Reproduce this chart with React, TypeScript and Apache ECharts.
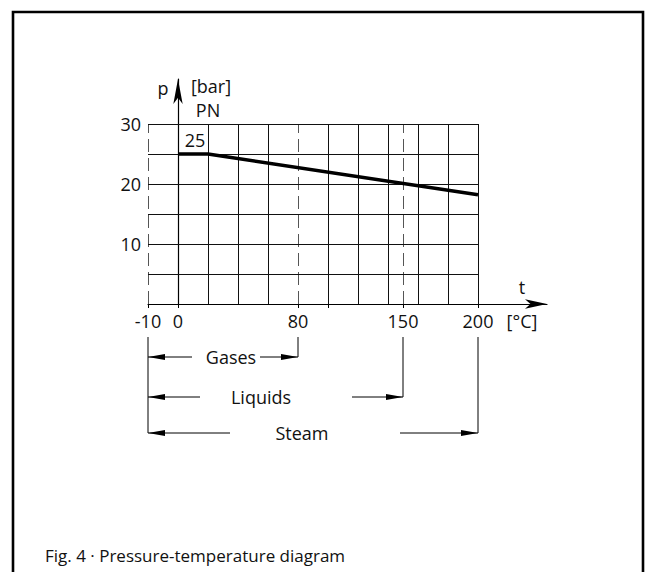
import React, { useEffect, useRef } from "react";
import * as echarts from "echarts";

// Pressure-temperature curve (PN 25)
const temps = [0, 20, 200];
const pressures = [25, 25, 18.2];

// axis ticks / labels (the -20 slot of the scale is the broken "-10" position)
const xLabelValues = [-20, 0, 80, 150, 200];
const xTickValues = [-20, 0, 80, 100, 150, 200];
const yLabelValues = [10, 20, 30];

// grid lines
const solidVerticals = [20, 40, 60, 100, 120, 140, 160, 180, 200];
const dashedVerticals = [-20, 80, 150];
const horizontals = [5, 10, 15, 20, 25, 30];

// application ranges
const rangeNames = ["Gases", "Liquids", "Steam"];
const rangeEnds = [80, 150, 200];

const FONT = "Open Sans";

export default function App() {
  const ref = useRef<HTMLDivElement>(null);
  useEffect(() => {
    document.body.style.margin = "0";
    const chart = echarts.init(ref.current!, null, { renderer: "svg" });
    const solidStyle = { color: "#111", width: 1, type: "solid" };
    const dashStyle = { color: "#555", width: 1, type: [13, 6] };
    const markData: any[] = [];
    solidVerticals.forEach((v) =>
      markData.push([{ coord: [v, 0], lineStyle: solidStyle }, { coord: [v, 30] }])
    );
    dashedVerticals.forEach((v) =>
      markData.push([{ coord: [v, 0], lineStyle: dashStyle }, { coord: [v, 30] }])
    );
    horizontals.forEach((h) =>
      markData.push([{ coord: [-20, h], lineStyle: solidStyle }, { coord: [200, h] }])
    );

    const option: any = {
      animation: false,
      grid: { left: 148, right: 103, top: 79, bottom: 268, containLabel: false },
      xAxis: {
        type: "value",
        min: -20,
        max: 246,
        interval: 20,
        axisLine: {
          show: true,
          onZero: true,
          symbol: ["none", "arrow"],
          symbolSize: [7, 22],
          lineStyle: { color: "#000", width: 1.2 },
        },
        axisTick: { show: true, customValues: xTickValues, length: 4, lineStyle: { color: "#000" } },
        axisLabel: {
          customValues: xLabelValues,
          formatter: (v: number) => (v === -20 ? "-10" : String(v)),
          margin: 8,
          fontSize: 18,
          fontFamily: FONT,
          color: "#111",
        },
        splitLine: { show: false },
      },
      yAxis: {
        type: "value",
        min: 0,
        max: 37.5,
        interval: 5,
        axisLine: {
          show: true,
          onZero: true,
          symbol: ["none", "arrow"],
          symbolSize: [7, 25],
          lineStyle: { color: "#000", width: 1.2 },
        },
        axisTick: { show: false },
        axisLabel: {
          customValues: yLabelValues,
          margin: 7,
          fontSize: 18,
          fontFamily: FONT,
          color: "#111",
        },
        splitLine: { show: false },
      },
      series: [
        {
          type: "line",
          data: [],
          z: 1,
          silent: true,
          markLine: {
            silent: true,
            symbol: "none",
            animation: false,
            label: { show: false },
            emphasis: { disabled: true },
            data: markData,
          },
        },
        {
          type: "line",
          z: 5,
          silent: true,
          symbol: "none",
          lineStyle: { color: "#000", width: 3.5 },
          data: temps.map((t, i) => [t, pressures[i]]),
        },
      ],
    };
    chart.setOption(option);

    const px = (v: number) => chart.convertToPixel({ xAxisIndex: 0 }, v) as number;
    const textStyle = (extra: any) => ({
      fontFamily: FONT,
      fontSize: 18,
      fill: "#111",
      ...extra,
    });

    const rowY = [357, 397, 433];
    const leftEnds = [192, 200, 230];
    const textCenters = [231, 261, 302];
    const rightStarts = [260, 352, 400];
    const topY = 337;
    const xLeft = px(-20);
    const graphics: any[] = [
      {
        type: "polyline",
        shape: { points: [[13, 600], [13, 12], [643, 12], [643, 600]] },
        style: { stroke: "#000", lineWidth: 2.6, fill: null },
        silent: true,
      },
      { type: "text", x: 522, y: 287, style: textStyle({ text: "t", align: "center", verticalAlign: "middle" }) },
      { type: "text", x: 522, y: 321, style: textStyle({ text: "[°C]", align: "center", verticalAlign: "middle" }) },
      { type: "text", x: 163, y: 88, style: textStyle({ text: "p", align: "center", verticalAlign: "middle" }) },
      { type: "text", x: 211, y: 86, style: textStyle({ text: "[bar]", align: "center", verticalAlign: "middle" }) },
      { type: "text", x: 208, y: 110, style: textStyle({ text: "PN", align: "center", verticalAlign: "middle" }) },
      { type: "text", x: 195, y: 140, style: textStyle({ text: "25", align: "center", verticalAlign: "middle" }) },
      {
        type: "text",
        x: 45,
        y: 555,
        style: textStyle({ text: "Fig. 4 · Pressure-temperature diagram", align: "left", verticalAlign: "middle", fontSize: 17 }),
      },
      {
        type: "line",
        shape: { x1: xLeft, y1: topY, x2: xLeft, y2: rowY[2] },
        style: { stroke: "#000", lineWidth: 1 },
      },
    ];
    const ah = 17;
    const hh = 3;
    rangeNames.forEach((name, i) => {
      const y = rowY[i];
      const xr = px(rangeEnds[i]);
      graphics.push(
        { type: "line", shape: { x1: xr, y1: topY, x2: xr, y2: y }, style: { stroke: "#000", lineWidth: 1 } },
        { type: "line", shape: { x1: xLeft, y1: y, x2: leftEnds[i], y2: y }, style: { stroke: "#000", lineWidth: 1 } },
        { type: "line", shape: { x1: rightStarts[i], y1: y, x2: xr, y2: y }, style: { stroke: "#000", lineWidth: 1 } },
        {
          type: "polygon",
          shape: { points: [[xLeft, y], [xLeft + ah, y - hh], [xLeft + ah, y + hh]] },
          style: { fill: "#000" },
        },
        {
          type: "polygon",
          shape: { points: [[xr, y], [xr - ah, y - hh], [xr - ah, y + hh]] },
          style: { fill: "#000" },
        },
        { type: "text", x: textCenters[i], y: y, style: textStyle({ text: name, align: "center", verticalAlign: "middle" }) }
      );
    });
    chart.setOption({ graphic: { elements: graphics } });

    return () => chart.dispose();
  }, []);
  return <div ref={ref} style={{ width: 650, height: 572 }} />;
}
